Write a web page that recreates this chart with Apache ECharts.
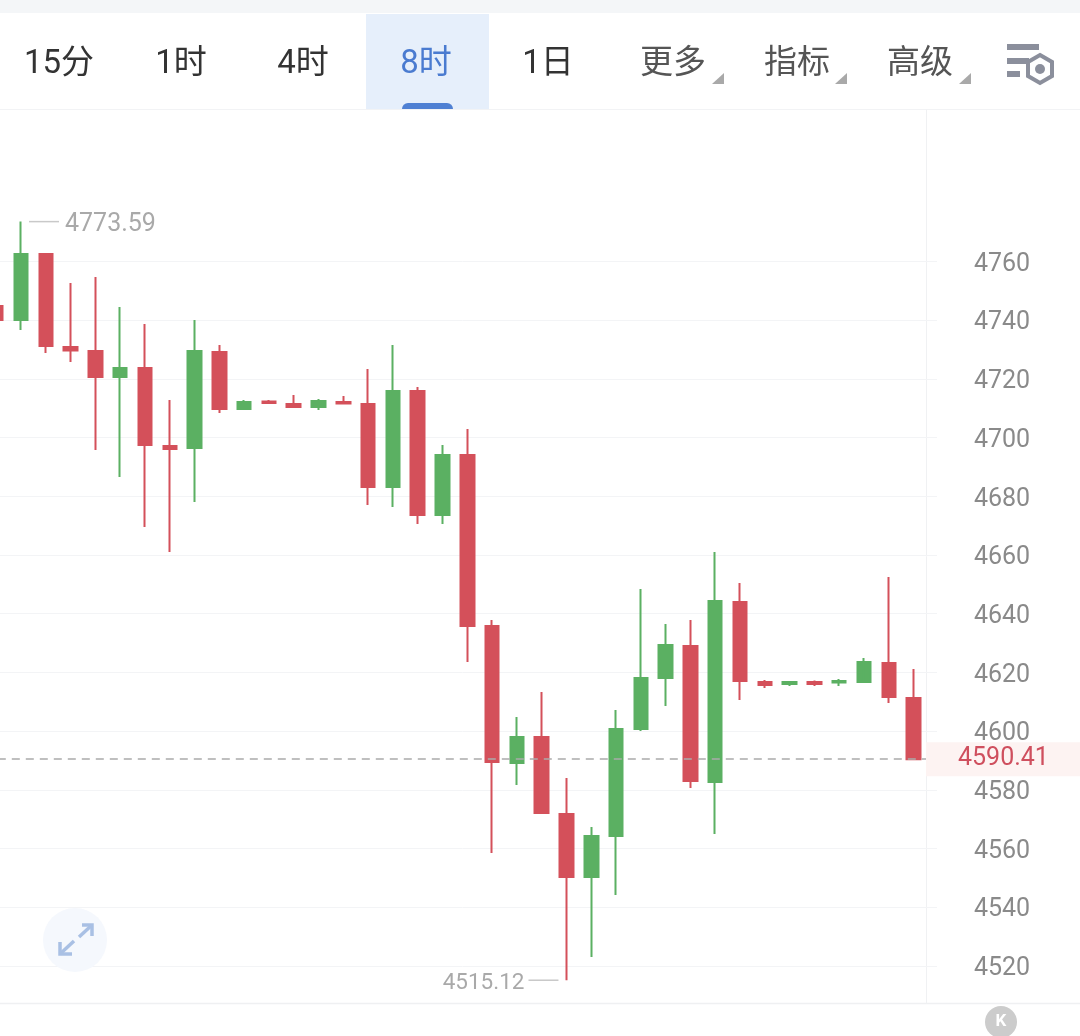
<!DOCTYPE html>
<html><head><meta charset="utf-8">
<style>html,body{margin:0;padding:0;background:#fff}#c{width:1080px;height:1036px}</style>
<script src="https://cdn.jsdelivr.net/npm/echarts@6/dist/echarts.min.js"></script>
</head><body><div id="c"></div>
<script>
const opens  = [4744.84,4740.07,4762.56,4730.87,4729.51,4720.65,4723.71,4697.14,4696.46,4729.17,4709.74,4712.30,4711.45,4710.43,4712.13,4711.45,4683.17,4715.88,4673.63,4694.07,4635.81,4589.13,4597.99,4571.76,4550.29,4564.26,4600.72,4618.09,4628.99,4582.66,4643.99,4616.73,4616.05,4616.73,4616.56,4616.73,4623.20,4611.28];
const closes = [4740.07,4762.56,4731.21,4729.68,4720.65,4723.71,4697.48,4696.12,4729.51,4709.74,4712.13,4711.79,4710.43,4712.47,4711.62,4683.17,4715.88,4673.63,4694.07,4635.81,4589.47,4597.99,4572.10,4550.29,4564.26,4600.72,4618.09,4629.34,4583.00,4644.33,4617.07,4615.71,4616.73,4616.05,4617.07,4623.54,4611.62,4590.41];
const lows   = [4740.07,4736.66,4728.82,4725.76,4695.78,4686.58,4669.54,4661.02,4678.06,4708.38,4709.74,4711.62,4710.09,4709.40,4711.62,4677.04,4676.35,4670.56,4670.56,4623.54,4558.47,4581.64,4572.10,4515.12,4523.03,4544.15,4600.03,4608.55,4580.61,4564.94,4610.60,4614.69,4615.37,4615.37,4615.37,4623.20,4609.58,4590.41];
const highs  = [4744.84,4773.59,4762.90,4752.67,4754.72,4744.50,4738.71,4712.81,4740.07,4731.55,4712.81,4712.81,4714.51,4713.15,4714.17,4723.37,4731.55,4717.24,4697.48,4702.93,4637.85,4604.80,4613.32,4584.02,4567.32,4607.19,4648.42,4636.49,4637.85,4661.02,4650.46,4617.41,4616.73,4617.24,4617.75,4624.91,4652.50,4621.16];
const categories = opens.map((_, i) => 'K' + (i + 1));
const priceTicks = [4520,4540,4560,4580,4600,4620,4640,4660,4680,4700,4720,4740,4760];
const tabs = ['15分','1时','4时','8时','1日','更多','指标','高级'];
const highLabel = 4773.59, lowLabel = 4515.12, lastPrice = 4590.41;

const RED = '#d4505a', GREEN = '#5bb062', FONT = 'Roboto, "Noto Sans CJK SC", sans-serif';
const tabX = [59,181,303,426,548,673,797,920];
const tabColor = ['#333','#333','#333','#4a7bd0','#333','#555','#555','#555'];
const g = [];
g.push({type:'rect',shape:{x:0,y:0,width:1080,height:13},style:{fill:'#f4f6f8'},silent:true});
g.push({type:'rect',shape:{x:366,y:14,width:123,height:96},style:{fill:'#e6effb'},silent:true});
g.push({type:'rect',shape:{x:402,y:103,width:51,height:7,r:[6,6,0,0]},style:{fill:'#4f80d3'},silent:true});
g.push({type:'line',shape:{x1:0,y1:109.5,x2:1080,y2:109.5},style:{stroke:'#f2f3f5',lineWidth:1},silent:true});
g.push({type:'line',shape:{x1:0,y1:1003.5,x2:1080,y2:1003.5},style:{stroke:'#eff0f2',lineWidth:1.5},silent:true});
tabs.forEach((t,i)=>g.push({type:'text',x:tabX[i],y:65,style:{text:t,fill:tabColor[i],font:'33px '+FONT,textAlign:'center',textVerticalAlign:'middle'},silent:true}));
[724,847,971].forEach(x=>g.push({type:'polygon',shape:{points:[[x,73],[x,84],[x-12,84]]},style:{fill:'#a9a9a9'},silent:true}));
[[1007,44,32,6],[1007,58,22,6],[1007,71,13,6]].forEach(b=>g.push({type:'rect',shape:{x:b[0],y:b[1],width:b[2],height:b[3]},style:{fill:'#8b8f9c'},silent:true}));
g.push({type:'polygon',shape:{points:[[1040,55],[1052,62],[1052,76],[1040,83],[1028,76],[1028,62]]},style:{fill:'#fff',stroke:'#8b8f9c',lineWidth:4},silent:true});
g.push({type:'circle',shape:{cx:1040,cy:69,r:5},style:{fill:'#8b8f9c'},silent:true});
g.push({type:'circle',shape:{cx:75,cy:940,r:32},style:{fill:'#f5f8fd'},silent:true,z:1});
[[[79,937],[92,925]],[[82,925],[92,925],[92,936]],[[74,941],[60,954]],[[60,942],[60,954],[72,954]]].forEach(p=>g.push({type:'polyline',shape:{points:p},style:{stroke:'#a9c0e4',lineWidth:3.5,fill:'none'},silent:true,z:2}));
g.push({type:'circle',shape:{cx:1001,cy:1022,r:16},style:{fill:'#cccccc'},silent:true});
g.push({type:'text',x:1001,y:1022,style:{text:'K',fill:'#fff',font:'bold 17px '+FONT,textAlign:'center',textVerticalAlign:'middle'},silent:true});

const extreme = (idx,val,side,size,dist)=>({
  coord:[categories[idx],val],value:val,
  symbol:'rect',symbolSize:[30,1.5],symbolOffset:[side*23,0],
  itemStyle:{color:'#c9c9c9'},
  label:{show:true,position:side>0?'right':'left',distance:dist,offset:[0,3],formatter:String(val.toFixed(2)),color:'#a9a9a9',fontSize:size,fontFamily:FONT}
});

const chart = echarts.init(document.getElementById('c'),null,{renderer:'canvas'});
chart.setOption({
  animation:false,
  backgroundColor:'#fff',
  grid:{left:-16.2,right:154,top:110,bottom:33,containLabel:false,outerBoundsMode:'none'},
  xAxis:{type:'category',data:categories,boundaryGap:true,axisLine:{show:false},axisTick:{show:false},axisLabel:{show:false},splitLine:{show:false}},
  yAxis:{type:'value',position:'right',min:4507.36,max:4811.62,scale:true,
    axisLine:{show:true,lineStyle:{color:'#f0f1f3',width:1}},
    axisTick:{show:true,length:11,customValues:priceTicks,lineStyle:{color:'#f3f4f6'}},
    axisLabel:{customValues:priceTicks,formatter:v=>String(v),color:'#8a8a8a',fontSize:25,fontFamily:FONT,margin:76,align:'center',verticalAlign:'top',lineHeight:6},
    splitLine:{show:true,lineStyle:{color:'#f3f4f6',width:1}}
  },
  graphic:g,
  series:[{
    type:'candlestick',
    data:categories.map((_,i)=>[opens[i],closes[i],lows[i],highs[i]]),
    barWidth:14,
    itemStyle:{color:GREEN,color0:RED,borderColor:GREEN,borderColor0:RED,borderWidth:2},
    markPoint:{silent:true,animation:false,data:[extreme(1,highLabel,1,25,6),extreme(23,lowLabel,-1,22.5,4)]},
    markLine:{silent:true,animation:false,symbol:'none',
      lineStyle:{color:'#aaaaaa',type:[8,6],width:1.5},
      label:{show:true,position:'end',distance:0,formatter:lastPrice.toFixed(2),color:'#cf4f5e',fontSize:25,fontFamily:FONT,
        backgroundColor:'#fdf3f2',width:122,height:34,lineHeight:37,align:'left',padding:[0,0,0,32]},
      data:[{yAxis:lastPrice}]}
  }]
});
</script></body></html>
